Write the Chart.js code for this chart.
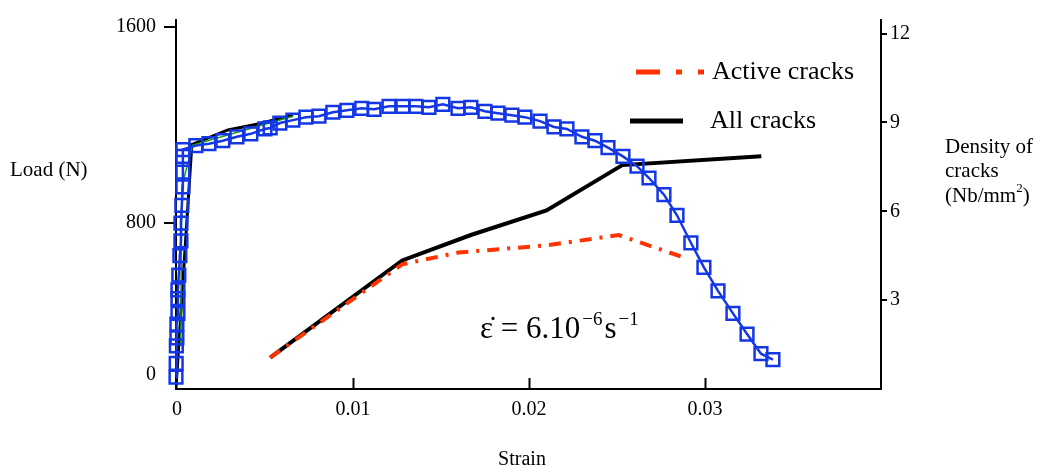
<!DOCTYPE html>
<html>
<head>
<meta charset="utf-8">
<script src="https://cdn.jsdelivr.net/npm/chart.js@4/dist/chart.umd.min.js"></script>
<style>
  html, body { margin: 0; padding: 0; background: #fff; }
  canvas { display: block; }
</style>
</head>
<body>
<canvas id="chart" width="1042" height="471"></canvas>
<script>
// Load vs strain (left axis), blue squares
const loadStrain = [-0.00005, -0.00004, -0.00003, 0, 0, 0.00006, 0.00006, 0.00006, 0.00011, 0.00017, 0.00023, 0.00023, 0.00028, 0.00034, 0.00034, 0.00034, 0.00034,
  0.00108, 0.00182, 0.00261, 0.00341, 0.0042, 0.005, 0.0053, 0.00585, 0.00659, 0.00733,
  0.00807, 0.00886, 0.00966, 0.0105, 0.0112, 0.01205, 0.01284, 0.01358, 0.01432, 0.01511,
  0.01597, 0.0167, 0.0175, 0.01824, 0.01903, 0.01977, 0.02063, 0.02142, 0.02216, 0.02301,
  0.02375, 0.02449, 0.02534, 0.02614, 0.02682, 0.02767, 0.02841, 0.0292, 0.02994, 0.03074,
  0.03159, 0.03239, 0.03318, 0.03386];
const loadValues = [172, 228, 300, 332, 388, 432, 492, 528, 588, 668, 728, 800, 872, 948, 1008, 1072, 1100,
  1116, 1124, 1136, 1152, 1164, 1184, 1188, 1208, 1220, 1232,
  1236, 1252, 1260, 1268, 1264, 1276, 1276, 1276, 1272, 1284,
  1268, 1272, 1256, 1248, 1240, 1232, 1216, 1192, 1184, 1152,
  1136, 1108, 1072, 1032, 984, 916, 832, 720, 620, 524,
  432, 348, 268, 244];

// second load curve (black) and the thin green one underneath
const refStrain = [-0.00005, 0.00085, 0.0029, 0.0046, 0.0066];
const refLoad = [128, 1120, 1180, 1204, 1240];
const greenStrain = [0.00022, 0.00028, 0.0009, 0.0066];
const greenLoad = [300, 950, 1118, 1236];

// crack densities (right axis)
const crackStrain = [0.0053, 0.0128, 0.0167, 0.021, 0.0253, 0.0332];
const allCracks = [1.06, 4.34, 5.2, 6.03, 7.56, 7.86];
const activeStrain = [0.0053, 0.0128, 0.016, 0.021, 0.0251, 0.0288];
const activeCracks = [1.06, 4.21, 4.61, 4.85, 5.2, 4.44];

// axis ticks
const strainTicks = [0, 0.01, 0.02, 0.03];
const strainTickLabels = ['0', '0.01', '0.02', '0.03'];
const loadTicks = [184, 800, 1600];
const loadTickLabels = ['0', '800', '1600'];
const densityTicks = [3, 6, 9, 12];

const FONT = "'Liberation Serif', 'Times New Roman', serif";

function pts(xs, ys) {
  return xs.map((x, i) => ({ x: x, y: ys[i] }));
}

// texts, legend and the inward ticks of the strain axis
const extras = {
  id: 'extras',
  afterDraw(chart) {
    const ctx = chart.ctx;
    const xs = chart.scales.x;
    ctx.save();
    ctx.strokeStyle = '#000';
    ctx.lineWidth = 2;
    strainTicks.slice(1).forEach(v => {
      const px = Math.round(xs.getPixelForValue(v)) + 0.5;
      ctx.beginPath();
      ctx.moveTo(px, xs.top);
      ctx.lineTo(px, xs.top - 11);
      ctx.stroke();
    });

    ctx.fillStyle = '#000';
    ctx.textBaseline = 'middle';
    ctx.font = '21px ' + FONT;
    ctx.textAlign = 'left';
    ctx.fillText('Load (N)', 10, 170);
    ctx.fillText('Density of', 945, 147);
    ctx.fillText('cracks', 945, 171);
    let w = ctx.measureText('(Nb/mm').width;
    ctx.fillText('(Nb/mm', 945, 196);
    ctx.font = '13px ' + FONT;
    ctx.fillText('2', 945 + w, 189);
    let w2 = ctx.measureText('2').width;
    ctx.font = '21px ' + FONT;
    ctx.fillText(')', 945 + w + w2, 196);
    ctx.font = '20px ' + FONT;
    ctx.textAlign = 'center';
    ctx.fillText('Strain', 522, 460);

    // legend
    ctx.lineCap = 'butt';
    ctx.strokeStyle = '#ff3300';
    ctx.lineWidth = 5;
    ctx.setLineDash([24, 16, 6, 16]);
    ctx.beginPath();
    ctx.moveTo(636, 72);
    ctx.lineTo(704, 72);
    ctx.stroke();
    ctx.setLineDash([]);
    ctx.strokeStyle = '#000';
    ctx.beginPath();
    ctx.moveTo(630, 121);
    ctx.lineTo(683, 121);
    ctx.stroke();
    ctx.textAlign = 'left';
    ctx.font = '26px ' + FONT;
    ctx.fillText('Active cracks', 712, 72);
    ctx.fillText('All cracks', 710, 121);

    // strain rate note
    ctx.textBaseline = 'alphabetic';
    let x = 480;
    const base = 338;
    const parts = [
      ['ε\u0307 = 6.10', 31, 0],
      ['\u22126', 19, -13],
      ['s', 31, 0],
      ['\u22121', 19, -13]
    ];
    parts.forEach(p => {
      ctx.font = p[1] + 'px ' + FONT;
      ctx.fillText(p[0], x, base + p[2]);
      x += ctx.measureText(p[0]).width + 2;
    });
    ctx.restore();
  }
};

new Chart(document.getElementById('chart'), {
  type: 'line',
  data: {
    datasets: [
      {
        label: 'Load',
        data: pts(loadStrain, loadValues),
        yAxisID: 'y',
        borderColor: '#1437e6',
        borderWidth: 2.5,
        pointStyle: 'rect',
        pointRadius: 9,
        pointBorderWidth: 2.5,
        pointBorderColor: '#1437e6',
        pointBackgroundColor: 'rgba(0,0,0,0)',
        clip: false
      },
      {
        label: 'Load 2',
        data: pts(greenStrain, greenLoad),
        yAxisID: 'y',
        borderColor: '#169a1e',
        borderWidth: 1.5,
        pointRadius: 0
      },
      {
        label: 'Load 1',
        data: pts(refStrain, refLoad),
        yAxisID: 'y',
        borderColor: '#000',
        borderWidth: 3,
        pointRadius: 0
      },
      {
        label: 'Active cracks',
        data: pts(activeStrain, activeCracks),
        yAxisID: 'y1',
        borderColor: '#ff3300',
        borderWidth: 4,
        borderDash: [12, 8, 3, 8],
        pointRadius: 0
      },
      {
        label: 'All cracks',
        data: pts(crackStrain, allCracks),
        yAxisID: 'y1',
        borderColor: '#000',
        borderWidth: 4,
        pointRadius: 0
      }
    ]
  },
  options: {
    responsive: false,
    animation: false,
    layout: { padding: { top: 13, left: 0, right: 0, bottom: 0 } },
    plugins: {
      legend: { display: false },
      tooltip: { enabled: false }
    },
    elements: { line: { tension: 0 } },
    scales: {
      x: {
        type: 'linear',
        min: -0.00005,
        max: 0.04,
        afterBuildTicks: axis => { axis.ticks = strainTicks.map(v => ({ value: v })); },
        afterFit: scale => { scale.height = 82; },
        border: { display: true, color: '#000', width: 2 },
        grid: { display: true, drawOnChartArea: false, drawTicks: false },
        ticks: {
          padding: 9,
          color: '#000',
          font: { family: FONT, size: 20 },
          maxRotation: 0,
          callback: (v, i) => strainTickLabels[i]
        }
      },
      y: {
        type: 'linear',
        position: 'left',
        min: 124,
        max: 1628,
        afterBuildTicks: axis => { axis.ticks = loadTicks.map(v => ({ value: v })); },
        afterFit: scale => { scale.width = 176; },
        border: { display: true, color: '#000', width: 2 },
        grid: {
          drawOnChartArea: false,
          drawTicks: true,
          tickLength: 12,
          lineWidth: 2,
          color: c => (c.tick && c.tick.value === loadTicks[0]) ? 'rgba(0,0,0,0)' : '#000'
        },
        ticks: {
          padding: 8,
          color: '#000',
          font: { family: FONT, size: 20 },
          callback: (v, i) => loadTickLabels[i]
        }
      },
      y1: {
        type: 'linear',
        position: 'right',
        min: 0,
        max: 12.46,
        afterBuildTicks: axis => { axis.ticks = densityTicks.map(v => ({ value: v })); },
        afterFit: scale => { scale.width = 161; },
        border: { display: true, color: '#000', width: 2 },
        grid: {
          drawOnChartArea: false,
          drawTicks: true,
          tickLength: 6,
          lineWidth: 2,
          color: '#000'
        },
        ticks: {
          padding: 3,
          color: '#000',
          font: { family: FONT, size: 20 },
          callback: v => String(v)
        }
      }
    }
  },
  plugins: [extras]
});
</script>
</body>
</html>
